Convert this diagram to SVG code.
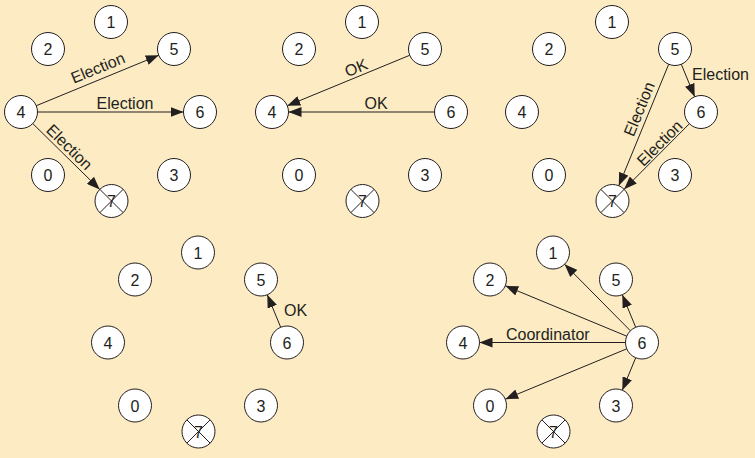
<svg xmlns="http://www.w3.org/2000/svg" width="755" height="458" viewBox="0 0 755 458">
<style>
.node circle{fill:#ffffff;stroke:#231f20;stroke-width:1}
.node text{font-family:"Liberation Sans",Arial,sans-serif;font-size:16px;fill:#231f20;text-anchor:middle}
.node line{stroke:#231f20;stroke-width:1}
.conn line{stroke:#231f20;stroke-width:1;marker-end:url(#arr)}
.lbl{font-family:"Liberation Sans",Arial,sans-serif;font-size:16px;fill:#231f20}
.mid{text-anchor:middle}
</style>
<defs>
<marker id="arr" markerUnits="userSpaceOnUse" markerWidth="13" markerHeight="10" refX="13" refY="5" orient="auto" viewBox="0 0 13 10">
<path d="M0,0 L13,5 L0,10 z" fill="#231f20"/>
</marker>
</defs>
<rect width="755" height="458" fill="#fcebc3"/>

<g id="panel1">
<g id="p1-n1" class="node" transform="translate(111,22)"><circle r="16.5"/><text y="6">1</text></g>
<g id="p1-n2" class="node" transform="translate(48,49)"><circle r="16.5"/><text y="6">2</text></g>
<g id="p1-n5" class="node" transform="translate(174,49)"><circle r="16.5"/><text y="6">5</text></g>
<g id="p1-n4" class="node" transform="translate(21,112)"><circle r="16.5"/><text y="6">4</text></g>
<g id="p1-n6" class="node" transform="translate(200,112)"><circle r="16.5"/><text y="6">6</text></g>
<g id="p1-n0" class="node" transform="translate(48,175)"><circle r="16.5"/><text y="6">0</text></g>
<g id="p1-n3" class="node" transform="translate(174,175)"><circle r="16.5"/><text y="6">3</text></g>
<g id="p1-n7" class="node" transform="translate(111.5,201)"><circle r="16.5"/><text y="6">7</text><line x1="-11.67" y1="-11.67" x2="11.67" y2="11.67"/><line x1="11.67" y1="-11.67" x2="-11.67" y2="11.67"/></g>
</g>

<g id="panel2">
<g id="p2-n1" class="node" transform="translate(362,22)"><circle r="16.5"/><text y="6">1</text></g>
<g id="p2-n2" class="node" transform="translate(299,49)"><circle r="16.5"/><text y="6">2</text></g>
<g id="p2-n5" class="node" transform="translate(425,49)"><circle r="16.5"/><text y="6">5</text></g>
<g id="p2-n4" class="node" transform="translate(272,112)"><circle r="16.5"/><text y="6">4</text></g>
<g id="p2-n6" class="node" transform="translate(451,112)"><circle r="16.5"/><text y="6">6</text></g>
<g id="p2-n0" class="node" transform="translate(299,175)"><circle r="16.5"/><text y="6">0</text></g>
<g id="p2-n3" class="node" transform="translate(425,175)"><circle r="16.5"/><text y="6">3</text></g>
<g id="p2-n7" class="node" transform="translate(362.5,201)"><circle r="16.5"/><text y="6">7</text><line x1="-11.67" y1="-11.67" x2="11.67" y2="11.67"/><line x1="11.67" y1="-11.67" x2="-11.67" y2="11.67"/></g>
</g>

<g id="panel3">
<g id="p3-n1" class="node" transform="translate(612,22)"><circle r="16.5"/><text y="6">1</text></g>
<g id="p3-n2" class="node" transform="translate(549,49)"><circle r="16.5"/><text y="6">2</text></g>
<g id="p3-n5" class="node" transform="translate(675,49)"><circle r="16.5"/><text y="6">5</text></g>
<g id="p3-n4" class="node" transform="translate(522,112)"><circle r="16.5"/><text y="6">4</text></g>
<g id="p3-n6" class="node" transform="translate(701,112)"><circle r="16.5"/><text y="6">6</text></g>
<g id="p3-n0" class="node" transform="translate(549,175)"><circle r="16.5"/><text y="6">0</text></g>
<g id="p3-n3" class="node" transform="translate(675,175)"><circle r="16.5"/><text y="6">3</text></g>
<g id="p3-n7" class="node" transform="translate(612.5,201)"><circle r="16.5"/><text y="6">7</text><line x1="-11.67" y1="-11.67" x2="11.67" y2="11.67"/><line x1="11.67" y1="-11.67" x2="-11.67" y2="11.67"/></g>
</g>

<g id="panel4">
<g id="p4-n1" class="node" transform="translate(198,252.5)"><circle r="16.5"/><text y="6">1</text></g>
<g id="p4-n2" class="node" transform="translate(135,279.5)"><circle r="16.5"/><text y="6">2</text></g>
<g id="p4-n5" class="node" transform="translate(261,279.5)"><circle r="16.5"/><text y="6">5</text></g>
<g id="p4-n4" class="node" transform="translate(108,342.5)"><circle r="16.5"/><text y="6">4</text></g>
<g id="p4-n6" class="node" transform="translate(287,342.5)"><circle r="16.5"/><text y="6">6</text></g>
<g id="p4-n0" class="node" transform="translate(135,405.5)"><circle r="16.5"/><text y="6">0</text></g>
<g id="p4-n3" class="node" transform="translate(261,405.5)"><circle r="16.5"/><text y="6">3</text></g>
<g id="p4-n7" class="node" transform="translate(198.5,431.5)"><circle r="16.5"/><text y="6">7</text><line x1="-11.67" y1="-11.67" x2="11.67" y2="11.67"/><line x1="11.67" y1="-11.67" x2="-11.67" y2="11.67"/></g>
</g>

<g id="panel5">
<g id="p5-n1" class="node" transform="translate(553,252.5)"><circle r="16.5"/><text y="6">1</text></g>
<g id="p5-n2" class="node" transform="translate(490,279.5)"><circle r="16.5"/><text y="6">2</text></g>
<g id="p5-n5" class="node" transform="translate(616,279.5)"><circle r="16.5"/><text y="6">5</text></g>
<g id="p5-n4" class="node" transform="translate(463,342.5)"><circle r="16.5"/><text y="6">4</text></g>
<g id="p5-n6" class="node" transform="translate(642,342.5)"><circle r="16.5"/><text y="6">6</text></g>
<g id="p5-n0" class="node" transform="translate(490,405.5)"><circle r="16.5"/><text y="6">0</text></g>
<g id="p5-n3" class="node" transform="translate(616,405.5)"><circle r="16.5"/><text y="6">3</text></g>
<g id="p5-n7" class="node" transform="translate(553.5,431.5)"><circle r="16.5"/><text y="6">7</text><line x1="-11.67" y1="-11.67" x2="11.67" y2="11.67"/><line x1="11.67" y1="-11.67" x2="-11.67" y2="11.67"/></g>
</g>

<g id="connectors" class="conn">
<!-- panel 1 -->
<line x1="36.26" y1="105.72" x2="158.74" y2="55.28"/>
<line x1="37.5" y1="112" x2="183.5" y2="112"/>
<line x1="32.76" y1="123.57" x2="99.74" y2="189.43"/>
<text class="lbl mid" transform="translate(100,73) rotate(-22.4)">Election</text>
<text class="lbl mid" x="125" y="109">Election</text>
<text class="lbl mid" transform="translate(65.5,151) rotate(44.5)">Election</text>
<!-- panel 2 -->
<line x1="409.74" y1="55.28" x2="287.26" y2="105.72"/>
<line x1="434.5" y1="112" x2="288.5" y2="112"/>
<text class="lbl mid" transform="translate(358.2,72.8) rotate(-22.4)">OK</text>
<text class="lbl mid" x="376" y="109">OK</text>
<!-- panel 3 -->
<line x1="681.3" y1="64.25" x2="694.7" y2="96.75"/>
<line x1="668.7" y1="64.26" x2="618.8" y2="185.74"/>
<line x1="689.4" y1="123.7" x2="624.1" y2="189.3"/>
<text class="lbl" x="692" y="80">Election</text>
<text class="lbl mid" transform="translate(644.3,111.2) rotate(-67.6)">Election</text>
<text class="lbl mid" transform="translate(663.5,147) rotate(-45.1)">Election</text>
<!-- panel 4 -->
<line x1="280.7" y1="327.25" x2="267.3" y2="294.75"/>
<text class="lbl" x="284" y="316">OK</text>
<!-- panel 5 -->
<line x1="630.4" y1="330.77" x2="564.6" y2="264.23"/>
<line x1="626.76" y1="336.18" x2="505.24" y2="285.82"/>
<line x1="635.7" y1="327.25" x2="622.3" y2="294.75"/>
<line x1="625.5" y1="342.5" x2="479.5" y2="342.5"/>
<line x1="626.76" y1="348.82" x2="505.24" y2="399.18"/>
<line x1="635.7" y1="357.75" x2="622.3" y2="390.25"/>
<text class="lbl" x="506" y="340">Coordinator</text>
</g>
</svg>
